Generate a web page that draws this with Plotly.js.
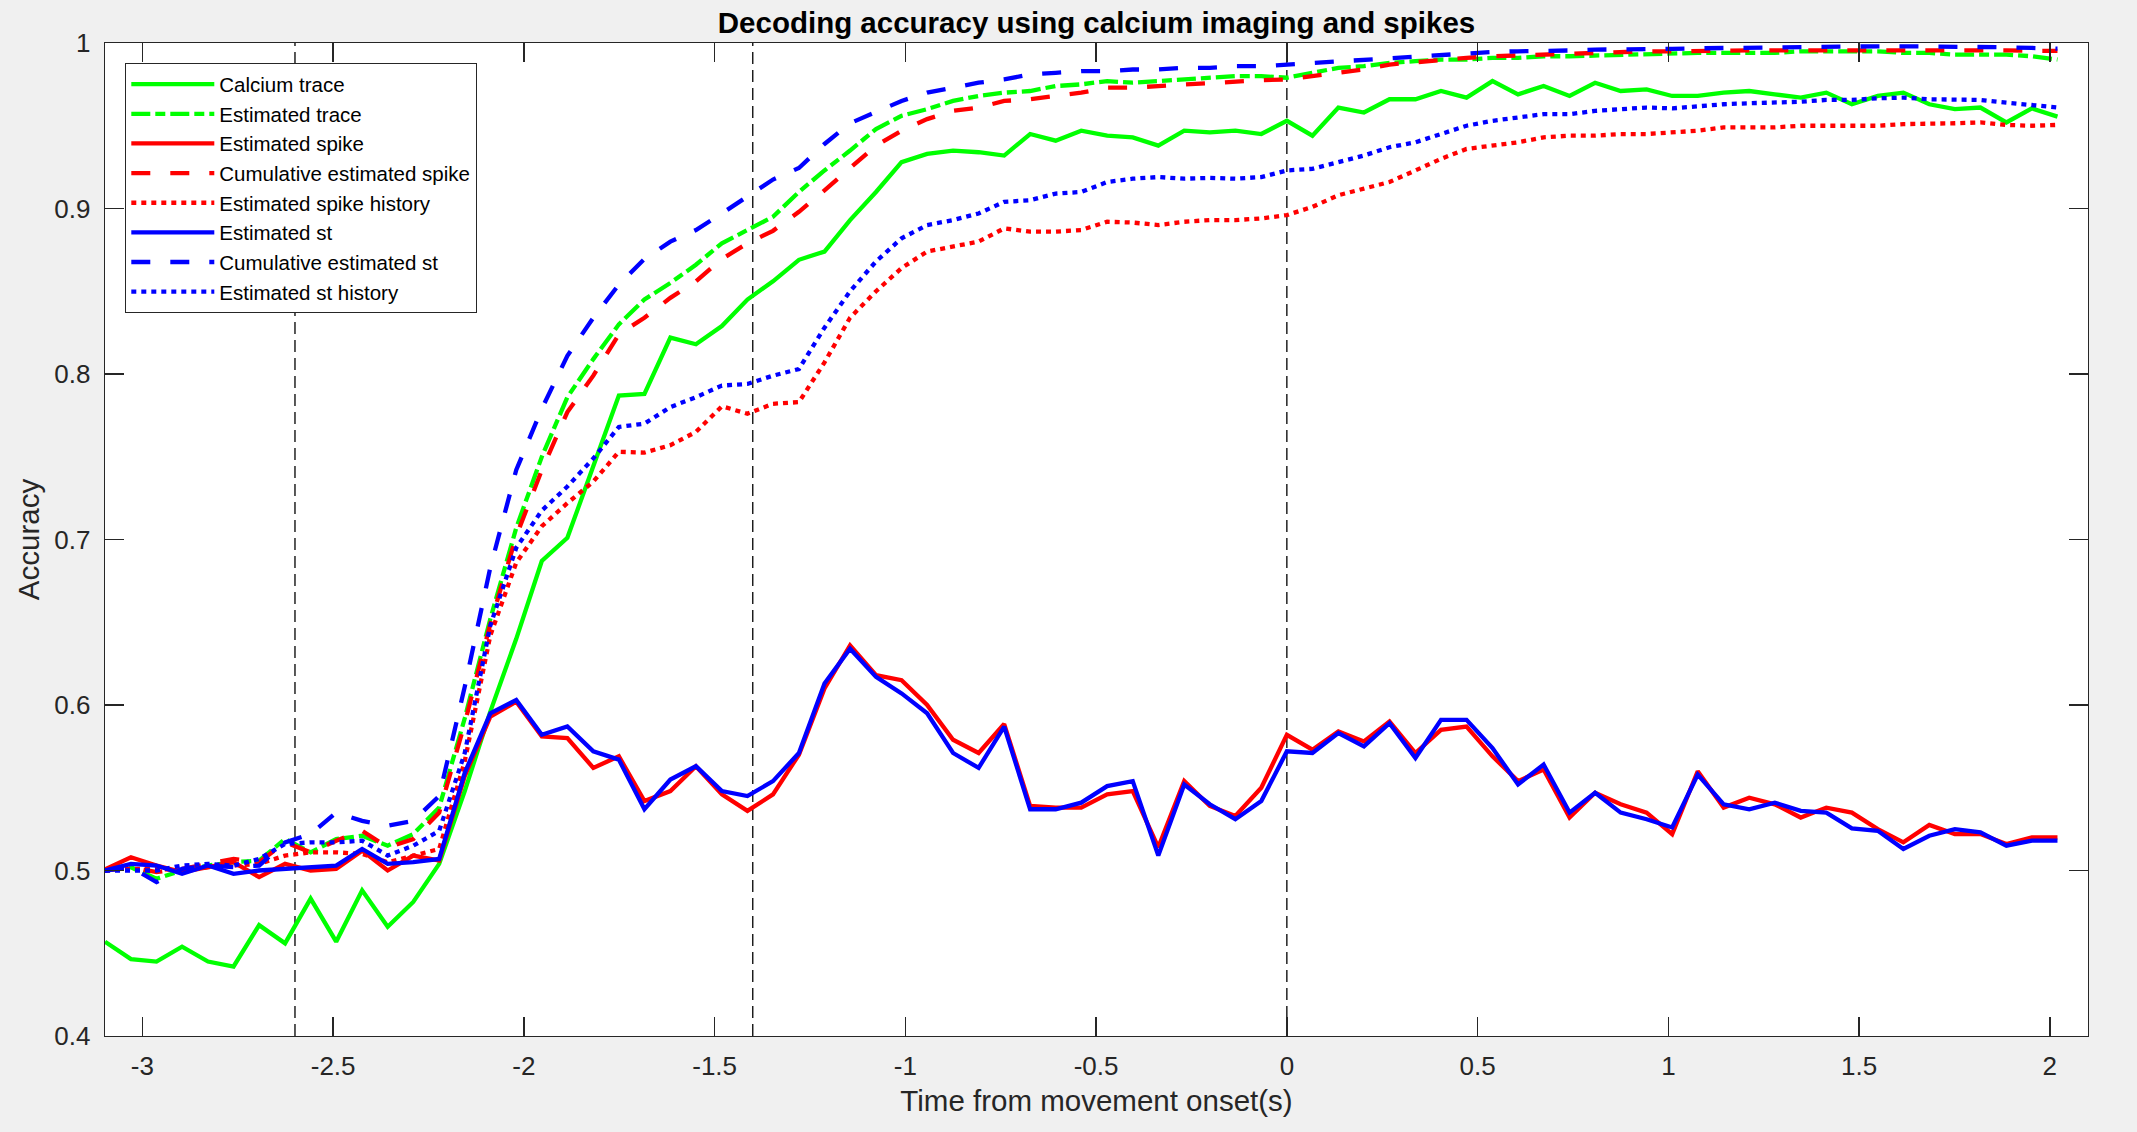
<!DOCTYPE html>
<html>
<head>
<meta charset="utf-8">
<script src="https://cdn.plot.ly/plotly-3.0.1.min.js"></script>
<style>
  html, body { margin: 0; padding: 0; background: #f0f0f0; }
  #div1 { width: 2137px; height: 1132px; }
</style>
</head>
<body>
<div id="div1"></div>
<script>
// time from movement onset (s), one sample per frame
var time = [-3.098, -3.030, -2.963, -2.896, -2.828, -2.761, -2.694, -2.626, -2.559, -2.492,
    -2.424, -2.357, -2.290, -2.222, -2.155, -2.088, -2.020, -1.953, -1.886, -1.818,
    -1.751, -1.684, -1.616, -1.549, -1.481, -1.414, -1.347, -1.279, -1.212, -1.145,
    -1.077, -1.010, -0.943, -0.875, -0.808, -0.741, -0.673, -0.606, -0.539, -0.471,
    -0.404, -0.337, -0.269, -0.202, -0.135, -0.067, 0, 0.067, 0.135, 0.202,
    0.269, 0.337, 0.404, 0.471, 0.539, 0.606, 0.673, 0.741, 0.808, 0.875,
    0.943, 1.010, 1.077, 1.145, 1.212, 1.279, 1.347, 1.414, 1.481, 1.549,
    1.616, 1.684, 1.751, 1.818, 1.886, 1.953, 2.020]

var calciumTrace = [0.457, 0.4465, 0.445, 0.454, 0.445, 0.442, 0.467, 0.456, 0.483, 0.457,
    0.488, 0.466, 0.481, 0.504, 0.548, 0.596, 0.640, 0.687, 0.701, 0.744,
    0.787, 0.788, 0.822, 0.818, 0.829, 0.845, 0.856, 0.869, 0.874, 0.893,
    0.910, 0.928, 0.933, 0.935, 0.934, 0.932, 0.945, 0.941, 0.947, 0.944,
    0.943, 0.938, 0.947, 0.946, 0.947, 0.945, 0.953, 0.944, 0.961, 0.958,
    0.966, 0.966, 0.971, 0.967, 0.977, 0.969, 0.974, 0.968, 0.976, 0.971,
    0.972, 0.968, 0.968, 0.970, 0.971, 0.969, 0.967, 0.970, 0.963, 0.968,
    0.970, 0.963, 0.960, 0.961, 0.952, 0.9605, 0.9555]

var estTrace = [0.500, 0.502, 0.495, 0.500, 0.503, 0.505, 0.506, 0.519, 0.511, 0.519,
    0.521, 0.515, 0.522, 0.538, 0.592, 0.652, 0.707, 0.750, 0.786, 0.809,
    0.830, 0.845, 0.855, 0.866, 0.879, 0.887, 0.895, 0.910, 0.923, 0.935,
    0.948, 0.956, 0.960, 0.965, 0.968, 0.970, 0.971, 0.974, 0.975, 0.977,
    0.976, 0.977, 0.978, 0.979, 0.980, 0.980, 0.979, 0.982, 0.985, 0.986,
    0.988, 0.989, 0.990, 0.990, 0.991, 0.991, 0.992, 0.992, 0.9925, 0.993,
    0.993, 0.994, 0.994, 0.994, 0.994, 0.994, 0.995, 0.995, 0.995, 0.995,
    0.994, 0.994, 0.993, 0.993, 0.993, 0.992, 0.990]

var estSpike = [0.5007, 0.508, 0.503, 0.499, 0.502, 0.505, 0.496, 0.504, 0.500, 0.501,
    0.512, 0.500, 0.509, 0.506, 0.557, 0.593, 0.602, 0.581, 0.580, 0.562,
    0.569, 0.542, 0.548, 0.563, 0.546, 0.536, 0.546, 0.570, 0.610, 0.636,
    0.618, 0.615, 0.600, 0.579, 0.571, 0.5885, 0.539, 0.538, 0.538, 0.546,
    0.548, 0.514, 0.554, 0.539, 0.533, 0.550, 0.582, 0.573, 0.584, 0.578,
    0.590, 0.571, 0.585, 0.587, 0.569, 0.554, 0.561, 0.532, 0.547, 0.540,
    0.535, 0.522, 0.560, 0.538, 0.544, 0.540, 0.532, 0.538, 0.535, 0.525,
    0.517, 0.5275, 0.522, 0.522, 0.516, 0.520, 0.520]

var cumSpike = [0.500, 0.502, 0.499, 0.501, 0.504, 0.507, 0.505, 0.517, 0.511, 0.518,
    0.524, 0.514, 0.519, 0.535, 0.589, 0.649, 0.702, 0.742, 0.777, 0.799,
    0.824, 0.834, 0.846, 0.856, 0.8695, 0.879, 0.8865, 0.898, 0.911, 0.9245,
    0.938, 0.947, 0.954, 0.959, 0.961, 0.965, 0.966, 0.968, 0.970, 0.973,
    0.973, 0.974, 0.975, 0.976, 0.977, 0.9775, 0.978, 0.980, 0.982, 0.984,
    0.987, 0.9885, 0.990, 0.991, 0.992, 0.9925, 0.9935, 0.994, 0.9944, 0.9947,
    0.995, 0.995, 0.9953, 0.9955, 0.9955, 0.9955, 0.9955, 0.9957, 0.996, 0.996,
    0.996, 0.996, 0.996, 0.996, 0.9955, 0.9953, 0.9953]

var spikeHistory = [0.500, 0.501, 0.501, 0.500, 0.502, 0.503, 0.504, 0.509, 0.511, 0.511,
    0.510, 0.505, 0.509, 0.513, 0.566, 0.642, 0.686, 0.708, 0.722, 0.735,
    0.753, 0.7525, 0.757, 0.765, 0.7805, 0.776, 0.782, 0.783, 0.807, 0.834,
    0.850, 0.864, 0.874, 0.877, 0.880, 0.888, 0.886, 0.886, 0.887, 0.892,
    0.8915, 0.890, 0.892, 0.893, 0.893, 0.894, 0.896, 0.901, 0.908, 0.912,
    0.916, 0.923, 0.930, 0.936, 0.938, 0.940, 0.943, 0.944, 0.944, 0.945,
    0.945, 0.946, 0.947, 0.949, 0.949, 0.949, 0.950, 0.950, 0.950, 0.950,
    0.951, 0.951, 0.9515, 0.952, 0.9505, 0.950, 0.9505]

var estSt = [0.500, 0.504, 0.503, 0.498, 0.503, 0.498, 0.500, 0.501, 0.502, 0.503,
    0.513, 0.504, 0.505, 0.507, 0.559, 0.595, 0.603, 0.582, 0.587, 0.572,
    0.567, 0.537, 0.555, 0.563, 0.548, 0.545, 0.554, 0.571, 0.613, 0.634,
    0.617, 0.607, 0.595, 0.571, 0.562, 0.587, 0.537, 0.537, 0.541, 0.551,
    0.554, 0.509, 0.552, 0.540, 0.531, 0.542, 0.572, 0.571, 0.583, 0.575,
    0.589, 0.568, 0.591, 0.591, 0.574, 0.552, 0.564, 0.535, 0.547, 0.535,
    0.531, 0.526, 0.558, 0.540, 0.537, 0.541, 0.536, 0.535, 0.5255, 0.524,
    0.513, 0.521, 0.525, 0.523, 0.515, 0.518, 0.518]

var cumSt = [0.500, 0.502, 0.493, 0.501, 0.503, 0.502, 0.503, 0.517, 0.522, 0.535,
    0.530, 0.527, 0.530, 0.545, 0.611, 0.683, 0.742, 0.779, 0.811, 0.834,
    0.854, 0.8695, 0.880, 0.887, 0.897, 0.907, 0.9175, 0.9245, 0.939, 0.9515,
    0.9586, 0.965, 0.970, 0.973, 0.976, 0.978, 0.981, 0.982, 0.983, 0.983,
    0.984, 0.984, 0.985, 0.985, 0.986, 0.986, 0.987, 0.9875, 0.989, 0.990,
    0.991, 0.992, 0.993, 0.994, 0.9946, 0.995, 0.995, 0.9955, 0.996, 0.996,
    0.9963, 0.9965, 0.9968, 0.997, 0.9974, 0.9976, 0.998, 0.998, 0.998, 0.998,
    0.998, 0.998, 0.9978, 0.9976, 0.9974, 0.997, 0.9966]

var stHistory = [0.500, 0.500, 0.500, 0.503, 0.504, 0.503, 0.507, 0.516, 0.517, 0.517,
    0.518, 0.509, 0.515, 0.524, 0.571, 0.648, 0.695, 0.7175, 0.732, 0.749,
    0.768, 0.770, 0.780, 0.786, 0.793, 0.794, 0.799, 0.803, 0.828, 0.850,
    0.868, 0.882, 0.890, 0.893, 0.897, 0.904, 0.905, 0.909, 0.910, 0.916,
    0.918, 0.919, 0.918, 0.9185, 0.918, 0.919, 0.923, 0.924, 0.928, 0.932,
    0.937, 0.940, 0.945, 0.950, 0.953, 0.955, 0.957, 0.957, 0.959, 0.960,
    0.961, 0.9605, 0.962, 0.963, 0.9636, 0.964, 0.9645, 0.9656, 0.9656, 0.9666,
    0.967, 0.966, 0.966, 0.9656, 0.964, 0.9625, 0.961]

// event markers (vertical dashed lines)
var eventTimes = [-2.6, -1.4, 0]

var xTicks = [-3, -2.5, -2, -1.5, -1, -0.5, 0, 0.5, 1, 1.5, 2]
var yTicks = [0.4, 0.5, 0.6, 0.7, 0.8, 0.9, 1]

var font = "Liberation Sans, Arial, Helvetica, sans-serif"
var lw = 4.3

// matlab-ish line styles
var dashed = "19px,20px"
var dashdot = "19px,5px,10px,5px"
var dotted = "5px,5px"

var line = (name, y, color, dash) => ({
    type: "scatter",
    mode: "lines",
    name: name,
    x: time,
    y: y,
    line: { color: color, width: lw, dash: dash }
})

var data = [
    line("Calcium trace", calciumTrace, "#00ff00", "solid"),
    line("Estimated trace", estTrace, "#00ff00", dashdot),
    line("Estimated spike", estSpike, "#ff0000", "solid"),
    line("Cumulative estimated spike", cumSpike, "#ff0000", dashed),
    line("Estimated spike history", spikeHistory, "#ff0000", dotted),
    line("Estimated st", estSt, "#0000ff", "solid"),
    line("Cumulative estimated st", cumSt, "#0000ff", dashed),
    line("Estimated st history", stHistory, "#0000ff", dotted)
]

var shapes = eventTimes.map(t => ({
    type: "line",
    xref: "x", yref: "paper",
    x0: t, x1: t, y0: 0, y1: 1,
    layer: "below",
    line: { color: "#000000", width: 1.3, dash: "12px,6px" }
}))

var axisStyle = {
    ticks: "inside",
    ticklen: 19,
    tickwidth: 1.3,
    tickcolor: "#262626",
    showline: true,
    linecolor: "#262626",
    linewidth: 1.3,
    mirror: "ticks",
    showgrid: false,
    zeroline: false,
    tickfont: { family: font, size: 26, color: "#262626" }
}

var layout = {
    width: 2137,
    height: 1132,
    paper_bgcolor: "#f0f0f0",
    plot_bgcolor: "#ffffff",
    margin: { l: 105, r: 49, t: 43, b: 96 },
    title: {
        text: "<b>Decoding accuracy using calcium imaging and spikes</b>",
        font: { family: font, size: 29.5, color: "#000000" },
        x: 0.5, xref: "paper",
        y: 1 - 23 / 1132, yref: "container", yanchor: "middle"
    },
    xaxis: Object.assign({}, axisStyle, {
        range: [-3.098, 2.1],
        tickvals: xTicks,
        ticktext: xTicks.map(String),
        ticklabelstandoff: 6,
        title: { text: "Time from movement onset(s)", font: { family: font, size: 29.5, color: "#262626" }, standoff: 10 }
    }),
    yaxis: Object.assign({}, axisStyle, {
        range: [0.4, 1],
        tickvals: yTicks,
        ticktext: yTicks.map(String),
        ticklabelstandoff: 8,
        title: { text: "Accuracy", font: { family: font, size: 29.5, color: "#262626" }, standoff: 6 }
    }),
    legend: {
        x: 20 / 1983, y: 1 - 20 / 993,
        xanchor: "left", yanchor: "top",
        bgcolor: "#ffffff",
        bordercolor: "#262626",
        borderwidth: 1.3,
        itemwidth: 83,
        font: { family: font, size: 20.5, color: "#000000" },
        tracegroupgap: 0
    },
    shapes: shapes,
    showlegend: true
}

Plotly.newPlot("div1", data, layout, { displayModeBar: false, staticPlot: true })
</script>
</body>
</html>
